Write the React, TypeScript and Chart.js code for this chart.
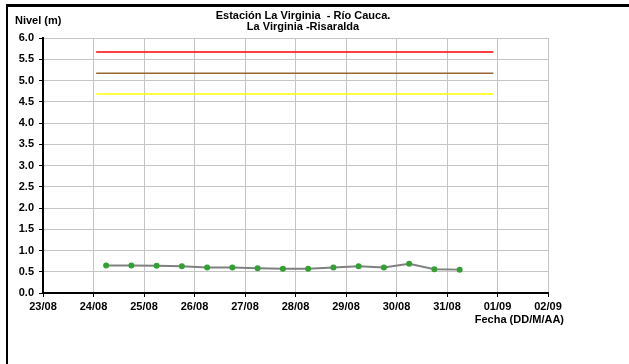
import { useEffect, useRef } from "react";
import { Chart, registerables } from "chart.js";

Chart.register(...registerables);

// ---- data ----
const xTickLabels = ["23/08", "24/08", "25/08", "26/08", "27/08", "28/08", "29/08", "30/08", "31/08", "01/09", "02/09"];
const yTickValues = [0, 0.5, 1, 1.5, 2, 2.5, 3, 3.5, 4, 4.5, 5, 5.5, 6];
const sampleTimes = [
  "24/08 06:00", "24/08 18:00", "25/08 06:00", "25/08 18:00", "26/08 06:00",
  "26/08 18:00", "27/08 06:00", "27/08 18:00", "28/08 06:00", "28/08 18:00",
  "29/08 06:00", "29/08 18:00", "30/08 06:00", "30/08 18:00", "31/08 06:00",
];
const levels = [0.65, 0.65, 0.64, 0.63, 0.6, 0.6, 0.58, 0.57, 0.57, 0.6, 0.63, 0.6, 0.69, 0.56, 0.55];
const thresholdSpan = ["24/08 01:15", "31/08 22:00"];
const thresholdLevels = [5.67, 5.17, 4.68];
const thresholdColors = ["#ff0000", "#996633", "#ffff00"];
const titleLines = ["Estación La Virginia  - Río Cauca.", "La Virginia -Risaralda"];
const yAxisTitle = "Nivel (m)";
const xAxisTitle = "Fecha (DD/M/AA)";

const FONT = "'Liberation Sans', Arial, sans-serif";

function toDays(s: string): number {
  const [datePart, timePart] = s.split(" ");
  const [d, m] = datePart.split("/").map(Number);
  const [h, mi] = timePart.split(":").map(Number);
  return (Date.UTC(2024, m - 1, d, h, mi) - Date.UTC(2024, 7, 23)) / 86400000;
}

const textPlugin = {
  id: "texts",
  afterDraw(chart: any) {
    const ctx = chart.ctx;
    ctx.save();
    ctx.fillStyle = "#000";
    ctx.font = `bold 11px ${FONT}`;
    ctx.textBaseline = "alphabetic";
    ctx.textAlign = "center";
    ctx.fillText(titleLines[0], 303, 19);
    ctx.fillText(titleLines[1], 303, 29.5);
    ctx.textAlign = "left";
    ctx.fillText(yAxisTitle, 15, 24);
    ctx.textAlign = "right";
    ctx.fillText(xAxisTitle, 564, 323);
    ctx.restore();
  },
};

export default function App() {
  const ref = useRef<HTMLCanvasElement | null>(null);

  useEffect(() => {
    if (!ref.current) return;
    const start = toDays(thresholdSpan[0]);
    const end = toDays(thresholdSpan[1]);
    const thresholdSets = thresholdLevels.map((lv, i) => ({
      type: "line" as const,
      data: [
        { x: start, y: lv },
        { x: end, y: lv },
      ],
      borderColor: thresholdColors[i],
      borderWidth: 1.5,
      pointRadius: 0,
      fill: false,
    }));
    const chart = new Chart(ref.current, {
      type: "line",
      data: {
        datasets: [
          ...thresholdSets,
          {
            data: sampleTimes.map((t, i) => ({ x: toDays(t), y: levels[i] })),
            borderColor: "#808080",
            borderWidth: 2,
            pointRadius: 3,
            pointBackgroundColor: "#33a033",
            pointBorderColor: "#33a033",
            pointBorderWidth: 0,
            fill: false,
            tension: 0,
          },
        ],
      },
      options: {
        responsive: false,
        animation: false,
        layout: { padding: { left: 0, top: 38, right: 81, bottom: 41 } },
        plugins: { legend: { display: false }, tooltip: { enabled: false }, title: { display: false } },
        scales: {
          x: {
            type: "linear",
            min: 0,
            max: xTickLabels.length - 1,
            afterFit: (s: any) => {
              s.height = 30;
            },
            afterBuildTicks: (s: any) => {
              s.ticks = xTickLabels.map((_, i) => ({ value: i }));
            },
            ticks: {
              autoSkip: false,
              maxRotation: 0,
              padding: 3,
              color: "#000",
              font: { family: FONT, size: 11, weight: "bold" },
              callback: (v: any) => xTickLabels[Math.round(Number(v))] ?? "",
            },
            grid: { color: "#c4c4c4", lineWidth: 1, tickColor: "#000", tickLength: 4 },
            border: { color: "#000", width: 2 },
          },
          y: {
            min: yTickValues[0],
            max: yTickValues[yTickValues.length - 1],
            afterFit: (s: any) => {
              s.width = 43;
            },
            afterBuildTicks: (s: any) => {
              s.ticks = yTickValues.map((v) => ({ value: v }));
            },
            ticks: {
              padding: 5,
              color: "#000",
              font: { family: FONT, size: 11, weight: "bold" },
              callback: (v: any) => Number(v).toFixed(1),
            },
            grid: { color: "#c4c4c4", lineWidth: 1, tickColor: "#000", tickLength: 4 },
            border: { color: "#000", width: 2 },
          },
        },
      },
      plugins: [textPlugin],
    });
    return () => chart.destroy();
  }, []);

  return (
    <div style={{ position: "fixed", left: 0, top: 0, width: 629, height: 364, background: "#fff", overflow: "hidden" }}>
      <canvas ref={ref} width={629} height={364} style={{ position: "absolute", left: 0, top: 0 }} />
      <div style={{ position: "absolute", left: 6, top: 4, width: 623, height: 3, background: "#000" }} />
      <div style={{ position: "absolute", left: 6, top: 4, width: 2, height: 360, background: "#000" }} />
    </div>
  );
}
